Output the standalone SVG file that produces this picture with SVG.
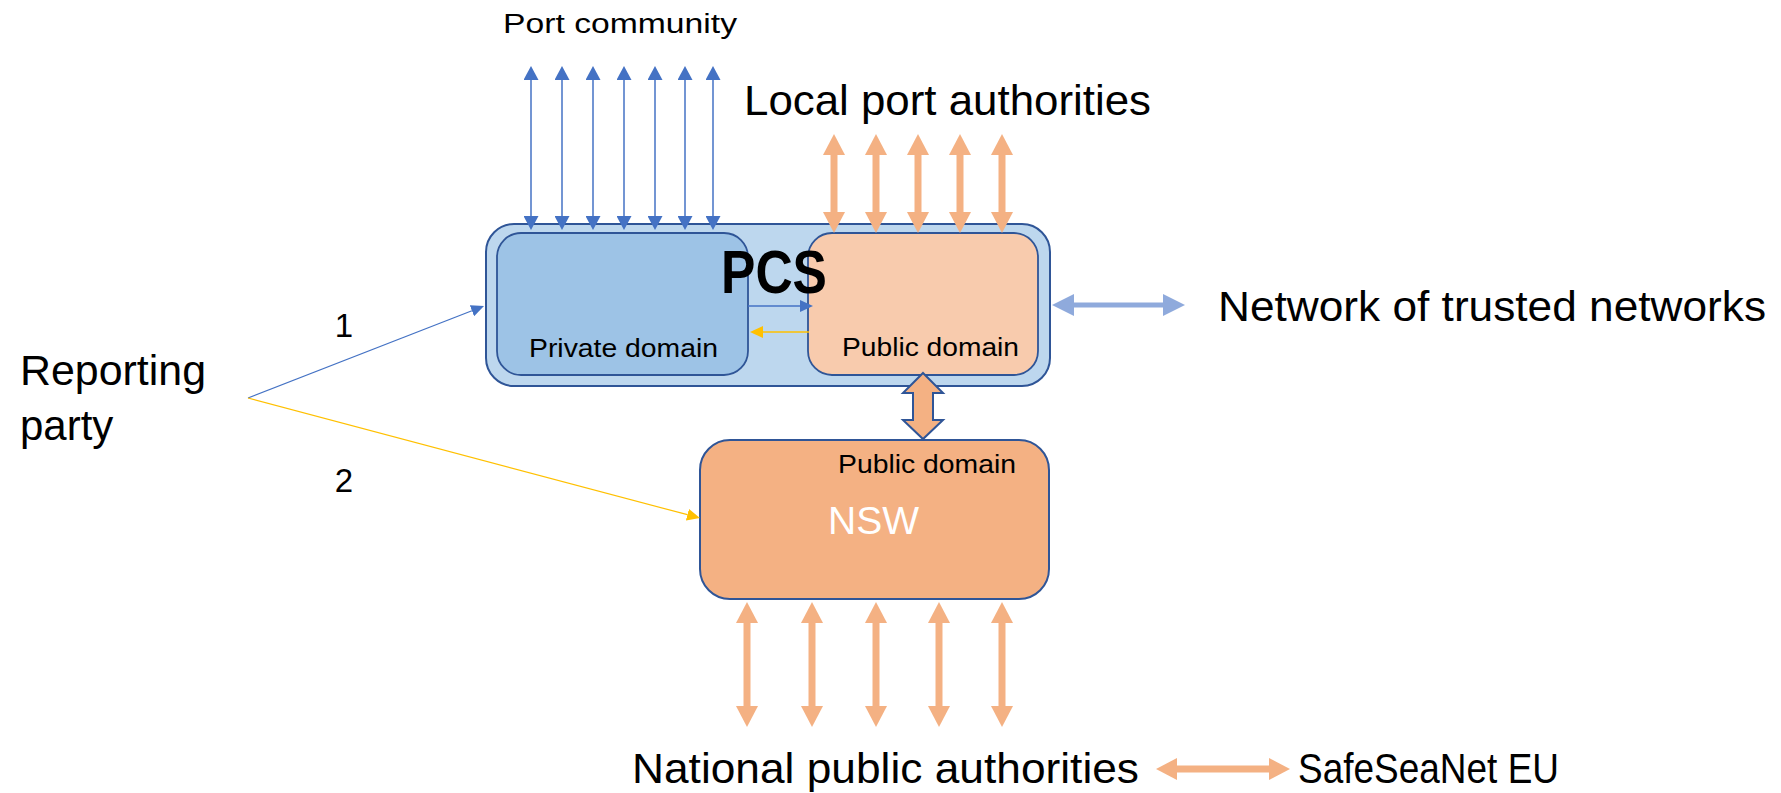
<svg xmlns="http://www.w3.org/2000/svg" width="1781" height="793" viewBox="0 0 1781 793">
<style>
  text { font-family: "Liberation Sans", Arial, sans-serif; fill: #000; }
  .box { stroke: #2F5597; }
  .thinblue { stroke: #4472C4; stroke-width: 1.5; fill: none; }
  .orange { stroke: #F4B183; stroke-width: 7; fill: none; }
</style>
<defs>
  <marker id="mBlueThin" viewBox="0 -7.5 14 15" refX="0" refY="0" markerWidth="14" markerHeight="15" markerUnits="userSpaceOnUse" orient="auto-start-reverse">
    <path d="M0,-7.5 L14,0 L0,7.5 z" fill="#4472C4"/>
  </marker>
  <marker id="mBlueSmall" viewBox="0 -6 13 12" refX="0" refY="0" markerWidth="13" markerHeight="12" markerUnits="userSpaceOnUse" orient="auto-start-reverse">
    <path d="M0,-6 L13,0 L0,6 z" fill="#4472C4"/>
  </marker>
  <marker id="mYellow" viewBox="0 -6 13 12" refX="0" refY="0" markerWidth="13" markerHeight="12" markerUnits="userSpaceOnUse" orient="auto-start-reverse">
    <path d="M0,-6 L13,0 L0,6 z" fill="#FFC000"/>
  </marker>
  <marker id="mOrange" viewBox="0 -11 21 22" refX="0" refY="0" markerWidth="21" markerHeight="22" markerUnits="userSpaceOnUse" orient="auto-start-reverse">
    <path d="M0,-11 L21,0 L0,11 z" fill="#F4B183"/>
  </marker>
  <marker id="mNet" viewBox="0 -11 22 22" refX="0" refY="0" markerWidth="22" markerHeight="22" markerUnits="userSpaceOnUse" orient="auto-start-reverse">
    <path d="M0,-11 L22,0 L0,11 z" fill="#8FAADC"/>
  </marker>
</defs>

<g id="pcs">
  <rect x="486" y="224" width="564" height="162" rx="28" fill="#BDD7EE" class="box" stroke-width="2"/>
</g>
<g id="private-domain">
  <rect x="497" y="233" width="251" height="142" rx="24" fill="#9DC3E6" class="box" stroke-width="1.8"/>
  <text x="529" y="357" font-size="25" textLength="189" lengthAdjust="spacingAndGlyphs">Private domain</text>
</g>
<g id="pcs-public-domain">
  <rect x="808" y="233" width="230" height="142" rx="24" fill="#F8CBAD" class="box" stroke-width="1.8"/>
  <text x="842" y="356" font-size="25" textLength="177" lengthAdjust="spacingAndGlyphs">Public domain</text>
</g>
<g id="pcs-label">
  <text x="721" y="293" font-size="61" font-weight="bold" textLength="106" lengthAdjust="spacingAndGlyphs">PCS</text>
</g>
<g id="nsw">
  <rect x="700" y="440" width="349" height="159" rx="30" fill="#F4B183" class="box" stroke-width="2"/>
  <text x="838" y="473" font-size="25" textLength="178" lengthAdjust="spacingAndGlyphs">Public domain</text>
  <text x="828" y="534" font-size="39" fill="#FFFFFF" style="fill:#FFFFFF" textLength="91" lengthAdjust="spacingAndGlyphs">NSW</text>
</g>
<g id="port-community">
  <text x="503" y="33" font-size="27" textLength="234" lengthAdjust="spacingAndGlyphs">Port community</text>
</g>
<g id="local-port-authorities">
  <text x="744" y="115" font-size="42" textLength="407" lengthAdjust="spacingAndGlyphs">Local port authorities</text>
</g>
<g id="network-of-trusted-networks">
  <text x="1218" y="321" font-size="42" textLength="548" lengthAdjust="spacingAndGlyphs">Network of trusted networks</text>
</g>
<g id="reporting-party">
  <text x="20" y="385" font-size="42" textLength="186" lengthAdjust="spacingAndGlyphs">Reporting</text>
  <text x="20" y="440" font-size="42">party</text>
</g>
<g id="national-public-authorities">
  <text x="632" y="783" font-size="42" textLength="507" lengthAdjust="spacingAndGlyphs">National public authorities</text>
</g>
<g id="safeseanet-eu">
  <text x="1298" y="783" font-size="42" textLength="261" lengthAdjust="spacingAndGlyphs">SafeSeaNet EU</text>
</g>

<g id="connectors">
  <!-- port community arrows -->
  <line class="thinblue" x1="531" y1="80" x2="531" y2="216" marker-start="url(#mBlueThin)" marker-end="url(#mBlueThin)"/>
  <line class="thinblue" x1="562" y1="80" x2="562" y2="216" marker-start="url(#mBlueThin)" marker-end="url(#mBlueThin)"/>
  <line class="thinblue" x1="593" y1="80" x2="593" y2="216" marker-start="url(#mBlueThin)" marker-end="url(#mBlueThin)"/>
  <line class="thinblue" x1="624" y1="80" x2="624" y2="216" marker-start="url(#mBlueThin)" marker-end="url(#mBlueThin)"/>
  <line class="thinblue" x1="655" y1="80" x2="655" y2="216" marker-start="url(#mBlueThin)" marker-end="url(#mBlueThin)"/>
  <line class="thinblue" x1="685" y1="80" x2="685" y2="216" marker-start="url(#mBlueThin)" marker-end="url(#mBlueThin)"/>
  <line class="thinblue" x1="713" y1="80" x2="713" y2="216" marker-start="url(#mBlueThin)" marker-end="url(#mBlueThin)"/>
  <!-- local port authorities arrows -->
  <line class="orange" x1="834" y1="155" x2="834" y2="212" marker-start="url(#mOrange)" marker-end="url(#mOrange)"/>
  <line class="orange" x1="876" y1="155" x2="876" y2="212" marker-start="url(#mOrange)" marker-end="url(#mOrange)"/>
  <line class="orange" x1="918" y1="155" x2="918" y2="212" marker-start="url(#mOrange)" marker-end="url(#mOrange)"/>
  <line class="orange" x1="960" y1="155" x2="960" y2="212" marker-start="url(#mOrange)" marker-end="url(#mOrange)"/>
  <line class="orange" x1="1002" y1="155" x2="1002" y2="212" marker-start="url(#mOrange)" marker-end="url(#mOrange)"/>
  <!-- national public authorities arrows -->
  <line class="orange" x1="747" y1="623" x2="747" y2="706" marker-start="url(#mOrange)" marker-end="url(#mOrange)"/>
  <line class="orange" x1="812" y1="623" x2="812" y2="706" marker-start="url(#mOrange)" marker-end="url(#mOrange)"/>
  <line class="orange" x1="876" y1="623" x2="876" y2="706" marker-start="url(#mOrange)" marker-end="url(#mOrange)"/>
  <line class="orange" x1="939" y1="623" x2="939" y2="706" marker-start="url(#mOrange)" marker-end="url(#mOrange)"/>
  <line class="orange" x1="1002" y1="623" x2="1002" y2="706" marker-start="url(#mOrange)" marker-end="url(#mOrange)"/>
  <!-- national to SafeSeaNet -->
  <line class="orange" x1="1177" y1="769" x2="1269" y2="769" marker-start="url(#mOrange)" marker-end="url(#mOrange)"/>
  <!-- network of trusted networks -->
  <line x1="1074" y1="305" x2="1163" y2="305" stroke="#8FAADC" stroke-width="5" marker-start="url(#mNet)" marker-end="url(#mNet)"/>
  <!-- private to public -->
  <line x1="748" y1="306" x2="800" y2="306" stroke="#4472C4" stroke-width="1.3" marker-end="url(#mBlueSmall)"/>
  <!-- public to private -->
  <line x1="809" y1="332" x2="763" y2="332" stroke="#FFC000" stroke-width="1.3" marker-end="url(#mYellow)"/>
  <!-- reporting party routes -->
  <line x1="248" y1="398" x2="471.9" y2="310.7" stroke="#4472C4" stroke-width="1.2" marker-end="url(#mBlueSmall)"/>
  <line x1="248" y1="398" x2="687.4" y2="514.7" stroke="#FFC000" stroke-width="1.2" marker-end="url(#mYellow)"/>
  <!-- PCS public domain to NSW -->
  <polygon points="923,373 943,393 933,393 933,420 943,420 923,439 903,420 913,420 913,393 903,393" fill="#F4B183" stroke="#2F5597" stroke-width="2" stroke-linejoin="miter"/>
  <!-- route labels -->
  <text x="344" y="337" font-size="33" text-anchor="middle">1</text>
  <text x="344" y="492" font-size="33" text-anchor="middle">2</text>
</g>
</svg>
